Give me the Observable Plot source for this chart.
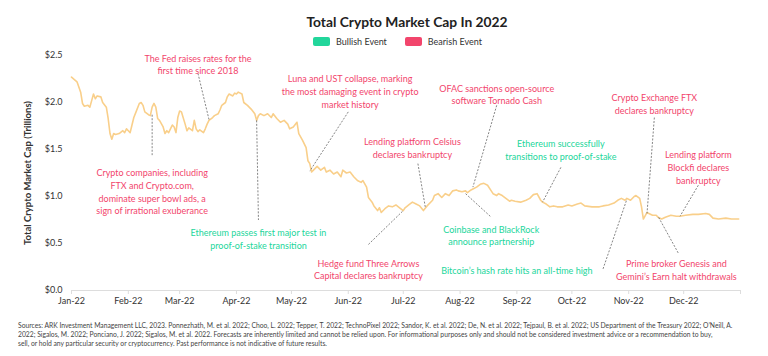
<!DOCTYPE html>
<html><head><meta charset="utf-8">
<script src="https://cdn.jsdelivr.net/npm/d3@7"></script>
<script src="https://cdn.jsdelivr.net/npm/@observablehq/plot@0.6"></script>
<style>
body{margin:0;background:#fff;font-family:Lato,"Open Sans",sans-serif;}
#wrap{position:relative;width:768px;height:356px;overflow:hidden;}
#title{position:absolute;top:13px;left:12px;width:790px;text-align:center;font-weight:700;font-size:13.8px;color:#222;}
#legend{position:absolute;top:36px;left:0;width:795px;display:flex;justify-content:center;gap:18px;font-size:9px;color:#333;}
#legend span.sw{display:inline-block;width:17px;height:9px;border-radius:2px;vertical-align:-1px;margin-right:6px;}
#chart{position:absolute;top:50px;left:0;}
#foot{position:absolute;top:321px;left:18px;font-size:6.75px;line-height:9px;color:#444;white-space:nowrap;}
</style></head>
<body><div id="wrap">
<div id="title">Total Crypto Market Cap In 2022</div>
<div id="legend"></div>
<div id="chart"></div>
<div id="foot"></div>
</div>
<script>
// ---- data (total crypto market cap, trillions USD) ----
const dates = ["2022-01-01","2022-01-04","2022-01-06","2022-01-07","2022-01-08","2022-01-10","2022-01-11","2022-01-12","2022-01-13","2022-01-14","2022-01-15","2022-01-17","2022-01-18","2022-01-20","2022-01-21","2022-01-22","2022-01-23","2022-01-24","2022-01-25","2022-01-27","2022-01-29","2022-01-30","2022-01-31",
"2022-02-01","2022-02-02","2022-02-03","2022-02-04","2022-02-05","2022-02-07","2022-02-08","2022-02-09","2022-02-10","2022-02-12","2022-02-13","2022-02-14","2022-02-15","2022-02-16","2022-02-17","2022-02-18","2022-02-20","2022-02-21","2022-02-22","2022-02-23","2022-02-25","2022-02-26","2022-02-27","2022-02-28",
"2022-03-01","2022-03-02","2022-03-04","2022-03-05","2022-03-06","2022-03-08","2022-03-09","2022-03-10","2022-03-11","2022-03-12","2022-03-14","2022-03-15","2022-03-16","2022-03-17","2022-03-19","2022-03-20","2022-03-22","2022-03-23","2022-03-24","2022-03-26","2022-03-27","2022-03-28","2022-03-30","2022-03-31",
"2022-04-01","2022-04-02","2022-04-04","2022-04-05","2022-04-07","2022-04-09","2022-04-11","2022-04-12","2022-04-13","2022-04-14","2022-04-16","2022-04-18","2022-04-20","2022-04-21","2022-04-23","2022-04-25","2022-04-27","2022-04-29","2022-04-30",
"2022-05-02","2022-05-04","2022-05-05","2022-05-07","2022-05-09","2022-05-10","2022-05-11","2022-05-12","2022-05-13","2022-05-15","2022-05-17","2022-05-19","2022-05-20","2022-05-22","2022-05-24","2022-05-26","2022-05-28","2022-05-29","2022-05-31",
"2022-06-02","2022-06-04","2022-06-06","2022-06-08","2022-06-09","2022-06-11","2022-06-12","2022-06-14","2022-06-15","2022-06-17","2022-06-18","2022-06-19","2022-06-21","2022-06-23","2022-06-25","2022-06-27","2022-06-29",
"2022-07-01","2022-07-02","2022-07-04","2022-07-06","2022-07-08","2022-07-10","2022-07-12","2022-07-14","2022-07-17","2022-07-18","2022-07-20","2022-07-22","2022-07-24","2022-07-26","2022-07-28","2022-07-30","2022-07-31",
"2022-08-02","2022-08-04","2022-08-05","2022-08-07","2022-08-08","2022-08-10","2022-08-12","2022-08-14","2022-08-16","2022-08-18","2022-08-19","2022-08-21","2022-08-22","2022-08-24","2022-08-26","2022-08-28","2022-08-29","2022-08-31",
"2022-09-03","2022-09-06","2022-09-08","2022-09-10","2022-09-12","2022-09-14","2022-09-15","2022-09-17","2022-09-19","2022-09-21","2022-09-23","2022-09-26","2022-09-29",
"2022-10-01","2022-10-04","2022-10-06","2022-10-08","2022-10-12","2022-10-16","2022-10-18","2022-10-21","2022-10-24","2022-10-26","2022-10-28","2022-10-30","2022-10-31",
"2022-11-02","2022-11-04","2022-11-05","2022-11-07","2022-11-08","2022-11-09","2022-11-11","2022-11-12","2022-11-14","2022-11-16","2022-11-17","2022-11-19","2022-11-21","2022-11-24","2022-11-27","2022-11-29",
"2022-12-02","2022-12-06","2022-12-09","2022-12-13","2022-12-15","2022-12-17","2022-12-20","2022-12-24","2022-12-27","2022-12-31"];
const caps = [2.27,2.22,2.11,1.99,1.96,1.97,1.95,2.02,2.09,2.04,2.07,2.06,2.00,1.95,1.83,1.67,1.61,1.67,1.66,1.67,1.70,1.68,1.72,
1.70,1.68,1.76,1.84,1.89,1.99,2.00,1.97,1.90,1.87,1.86,1.95,1.99,1.95,1.83,1.81,1.74,1.67,1.70,1.68,1.76,1.74,1.68,1.84,
1.91,1.90,1.77,1.70,1.73,1.70,1.81,1.72,1.69,1.71,1.68,1.72,1.77,1.81,1.84,1.86,1.88,1.92,1.97,2.00,2.06,2.09,2.07,2.10,
2.09,2.11,2.09,2.00,1.97,1.93,1.88,1.81,1.86,1.88,1.86,1.88,1.84,1.88,1.83,1.79,1.81,1.77,1.72,
1.74,1.79,1.67,1.60,1.52,1.38,1.35,1.26,1.28,1.32,1.28,1.31,1.26,1.28,1.24,1.26,1.21,1.28,1.25,
1.26,1.21,1.17,1.15,1.17,1.10,0.99,0.94,0.90,0.85,0.88,0.83,0.87,0.90,0.89,0.91,0.88,
0.85,0.88,0.91,0.94,0.92,0.90,0.85,0.90,0.96,1.01,1.03,0.99,1.03,1.01,1.06,1.07,1.06,
1.05,1.06,1.04,1.07,1.08,1.10,1.13,1.14,1.12,1.06,1.03,1.01,1.03,1.01,0.98,0.95,0.96,0.95,
0.94,0.96,0.98,1.02,1.03,0.96,0.94,0.92,0.89,0.90,0.89,0.89,0.91,
0.90,0.92,0.93,0.90,0.89,0.89,0.90,0.91,0.93,0.96,0.98,0.96,0.98,
0.96,1.00,1.01,0.98,0.89,0.76,0.83,0.82,0.80,0.80,0.78,0.76,0.78,0.80,0.79,0.79,
0.80,0.81,0.81,0.82,0.81,0.77,0.76,0.77,0.76,0.76];

// ---- annotations ----
const annLabels = [
 "Crypto companies, including\nFTX and Crypto.com,\ndominate super bowl ads, a\nsign of irrational exuberance",
 "The Fed raises rates for the\nfirst time since 2018",
 "Luna and UST collapse, marking\nthe most damaging event in crypto\nmarket history",
 "Ethereum passes first major test in\nproof-of-stake transition",
 "Lending platform Celsius\ndeclares bankruptcy",
 "Hedge fund Three Arrows\nCapital declares bankruptcy",
 "OFAC sanctions open-source\nsoftware Tornado Cash",
 "Coinbase and BlackRock\nannounce partnership",
 "Bitcoin\u2019s hash rate hits an all-time high",
 "Ethereum successfully\ntransitions to proof-of-stake",
 "Crypto Exchange FTX\ndeclares bankruptcy",
 "Lending platform\nBlockfi declares\nbankruptcy",
 "Prime broker Genesis and\nGemini\u2019s Earn halt withdrawals"];
const annKinds = ["Bearish","Bearish","Bearish","Bullish","Bearish","Bearish","Bearish","Bullish","Bullish","Bullish","Bearish","Bearish","Bearish"];
const annTextDates = ["2022-02-14","2022-03-11","2022-06-02","2022-04-13","2022-07-06","2022-06-12","2022-08-21","2022-08-18","2022-09-01","2022-09-25","2022-11-15","2022-12-09","2022-11-27"];
const annTextValues = [1.31,2.53,2.31,0.67,1.64,0.35,2.21,0.71,0.27,1.62,2.11,1.50,0.34];
const linkFromDates = ["2022-02-14","2022-03-11","2022-06-01","2022-04-12","2022-07-09","2022-06-12","2022-08-21","2022-08-04","2022-10-18","2022-09-25","2022-11-15","2022-12-09","2022-11-28"];
const linkFromValues = [1.87,2.31,1.90,1.81,1.35,0.49,1.97,1.03,0.23,1.31,1.84,1.12,0.40];
const linkToDates = ["2022-02-14","2022-03-17","2022-05-11","2022-04-13","2022-07-13","2022-07-01","2022-08-08","2022-08-18","2022-10-31","2022-09-15","2022-11-11","2022-11-29","2022-11-17"];
const linkToValues = [1.44,1.82,1.27,0.75,0.89,0.85,1.10,0.78,0.97,0.94,0.82,0.79,0.79];

const yTicks = [0, 0.5, 1.0, 1.5, 2.0, 2.5];
const colors = {Bullish: "#22d69b", Bearish: "#f2456c"};
const lineColor = "#f9cf8a";

const series = dates.map((d, i) => ({date: new Date(d), cap: caps[i]}));
const ann = annLabels.map((t, i) => ({label: t, kind: annKinds[i], date: new Date(annTextDates[i]), value: annTextValues[i]}));
const links = linkFromDates.map((d, i) => ({x1: new Date(d), y1: linkFromValues[i], x2: new Date(linkToDates[i]), y2: linkToValues[i]}));

// legend
document.getElementById("legend").innerHTML = ["Bullish","Bearish"].map(k =>
  `<span><span class="sw" style="background:${colors[k]}"></span>${k} Event</span>`).join("");

// footer
const footLines = [
 "Sources: ARK Investment Management LLC, 2023. Ponnezhath, M. et al. 2022; Choo, L. 2022; Tepper, T. 2022; TechnoPixel 2022; Sandor, K. et al. 2022; De, N. et al. 2022; Tejpaul, B. et al. 2022; US Department of the Treasury 2022; O\u2019Neill, A.",
 "2022; Sigalos, M. 2022; Ponciano, J. 2022; Sigalos, M. et al. 2022. Forecasts are inherently limited and cannot be relied upon. For informational purposes only and should not be considered investment advice or a recommendation to buy,",
 "sell, or hold any particular security or cryptocurrency. Past performance is not indicative of future results."];
document.getElementById("foot").innerHTML = footLines.join("<br>");

const chart = Plot.plot({
  width: 768, height: 265,
  marginTop: 5, marginBottom: 25, marginLeft: 71, marginRight: 28,
  style: {fontFamily: "Lato, 'Open Sans', sans-serif", fontSize: "9px", color: "#333", background: "white"},
  x: {type: "utc", domain: [new Date("2022-01-01"), new Date("2023-01-01")]},
  y: {domain: [0, 2.5]},
  marks: [
    Plot.axisY({ticks: yTicks, tickFormat: () => "", tickSize: 0,
      label: "Total Crypto Market Cap (Trillions)", labelAnchor: "center", labelArrow: "none", labelOffset: 47, fontWeight: 700, fontSize: 9.5}),
    Plot.axisY({ticks: yTicks, tickFormat: d => "$" + d.toFixed(1), tickSize: 0, tickPadding: 9, label: null}),
    Plot.ruleY([0], {stroke: "#ddd"}),
    Plot.axisX({ticks: d3.utcMonth.every(1), tickFormat: d => d.getUTCFullYear() === 2022 ? d3.utcFormat("%b-%y")(d) : "",
      tickSize: 4, tickPadding: 3, stroke: "#ddd", label: null}),
    Plot.line(series, {x: "date", y: "cap", stroke: lineColor, strokeWidth: 1.6, curve: "linear"}),
    Plot.link(links, {x1: "x1", y1: "y1", x2: "x2", y2: "y2", stroke: "#666", strokeWidth: 0.8, strokeDasharray: "2,1.5"}),
    Plot.text(ann.filter(d => d.kind === "Bearish"), {x: "date", y: "value", text: "label", fill: colors.Bearish, lineAnchor: "top", lineHeight: 1.4, fontSize: 9}),
    Plot.text(ann.filter(d => d.kind === "Bullish"), {x: "date", y: "value", text: "label", fill: colors.Bullish, lineAnchor: "top", lineHeight: 1.4, fontSize: 9})
  ]
});
document.getElementById("chart").appendChild(chart);
</script>
</body></html>
